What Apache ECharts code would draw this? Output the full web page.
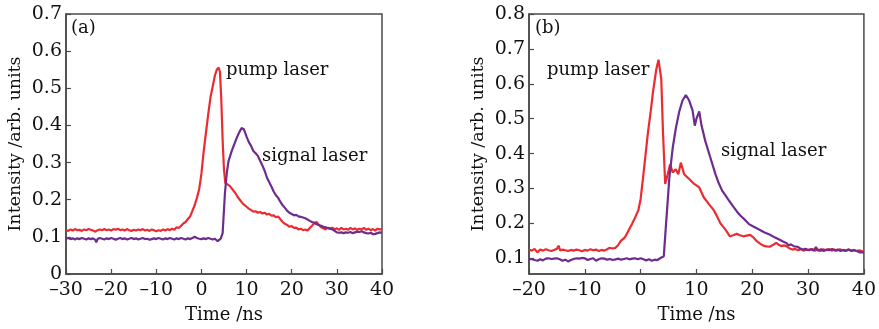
<!DOCTYPE html>
<html>
<head>
<meta charset="utf-8">
<script src="https://cdn.jsdelivr.net/npm/echarts@6/dist/echarts.min.js"></script>
<style>
  html, body { margin: 0; padding: 0; background: #fff; }
  #chart { width: 879px; height: 329px; }
</style>
</head>
<body>
<div id="chart"></div>
<script>
// panel (a)
const tPumpA = [-30,-29.5,-29,-28.5,-28,-27.5,-27,-26.5,-26,-25.5,-25,-24.5,-24,-23.5,-23.3,-23,-22.5,-22,-21.5,-21,-20.5,-20,-19.5,-19,-18.5,-18,-17.5,-17,-16.5,-16,-15.5,-15,-14.5,-14,-13.5,-13,-12.5,-12,-11.5,-11,-10.5,-10,-9.5,-9,-8.5,-8,-7.5,-7,-6.5,-6,-5.5,-5,-4.5,-4,-3.5,-3,-2.5,-2,-1.5,-1,-0.5,0,0.5,1,1.5,2,2.5,3,3.4,3.8,4.1,4.4,4.7,5,5.3,5.7,6.2,6.6,7,7.5,8,8.5,9,9.5,10,10.5,11,11.5,12,12.5,13,13.5,14,14.5,15,15.5,16,16.5,17,17.5,18,18.5,19,19.5,20,20.5,21,21.5,22,22.5,23,23.5,24,24.5,25,25.5,26,26.5,27,27.5,28,28.5,29,29.5,30,30.5,31,31.5,32,32.5,33,33.5,34,34.5,35,35.5,36,36.5,37,37.5,38,38.5,39,39.5,40];
const pumpA = [0.118,0.116,0.12,0.117,0.121,0.118,0.119,0.116,0.12,0.118,0.121,0.119,0.117,0.114,0.109,0.118,0.12,0.118,0.121,0.118,0.12,0.117,0.121,0.119,0.122,0.118,0.12,0.117,0.121,0.118,0.116,0.119,0.117,0.12,0.118,0.121,0.117,0.119,0.116,0.12,0.118,0.115,0.118,0.116,0.12,0.117,0.121,0.118,0.122,0.119,0.126,0.124,0.13,0.136,0.14,0.148,0.155,0.17,0.185,0.205,0.228,0.27,0.33,0.38,0.43,0.475,0.505,0.535,0.55,0.556,0.545,0.47,0.36,0.28,0.245,0.24,0.238,0.236,0.226,0.218,0.208,0.2,0.192,0.186,0.181,0.176,0.172,0.168,0.169,0.165,0.167,0.163,0.165,0.16,0.162,0.157,0.158,0.153,0.155,0.147,0.14,0.135,0.132,0.127,0.129,0.124,0.125,0.12,0.122,0.118,0.12,0.117,0.124,0.13,0.137,0.14,0.132,0.126,0.123,0.12,0.124,0.121,0.125,0.12,0.123,0.119,0.124,0.12,0.122,0.119,0.124,0.12,0.123,0.119,0.122,0.12,0.124,0.119,0.122,0.118,0.121,0.117,0.122,0.12,0.121];

const tSignalA = [-30,-29.5,-29,-28.5,-28,-27.5,-27,-26.5,-26,-25.5,-25,-24.5,-24,-23.5,-23.3,-23,-22.5,-22,-21.5,-21,-20.5,-20,-19.5,-19,-18.5,-18,-17.5,-17,-16.5,-16,-15.5,-15,-14.5,-14,-13.5,-13,-12.5,-12,-11.5,-11,-10.5,-10,-9.5,-9,-8.5,-8,-7.5,-7,-6.5,-6,-5.5,-5,-4.5,-4,-3.5,-3,-2.5,-2,-1.5,-1,-0.5,0,0.5,1,1.5,2,2.5,3,3.6,4.3,4.7,5.2,5.6,6,6.7,7.3,7.8,8.4,8.9,9.4,10,10.5,11,11.5,12,12.5,13,13.4,14,14.5,15,15.6,16,16.5,17,17.4,18,18.5,19,19.6,20,20.5,21,21.5,22,22.5,23,23.5,24,24.5,25,25.5,26,26.5,27,27.5,28,28.5,29,29.5,30,30.5,31,31.5,32,32.5,33,33.5,34,34.5,35,35.5,36,36.5,37,37.5,38,38.5,39,39.5,40];
const signalA = [0.095,0.097,0.094,0.096,0.093,0.096,0.094,0.097,0.095,0.093,0.096,0.094,0.096,0.092,0.085,0.094,0.097,0.095,0.093,0.096,0.094,0.097,0.095,0.092,0.095,0.097,0.094,0.096,0.093,0.095,0.097,0.094,0.096,0.093,0.095,0.097,0.094,0.095,0.092,0.094,0.096,0.094,0.097,0.095,0.093,0.096,0.094,0.097,0.095,0.093,0.096,0.094,0.097,0.095,0.093,0.096,0.094,0.097,0.1,0.097,0.095,0.094,0.096,0.094,0.097,0.095,0.093,0.095,0.088,0.096,0.11,0.216,0.27,0.304,0.331,0.35,0.366,0.382,0.393,0.39,0.37,0.355,0.345,0.331,0.325,0.318,0.305,0.295,0.278,0.26,0.248,0.233,0.222,0.212,0.205,0.196,0.185,0.178,0.17,0.164,0.161,0.158,0.159,0.155,0.154,0.152,0.15,0.147,0.143,0.14,0.138,0.134,0.132,0.13,0.127,0.126,0.124,0.123,0.12,0.116,0.112,0.111,0.112,0.11,0.112,0.111,0.113,0.11,0.112,0.114,0.113,0.115,0.112,0.11,0.109,0.111,0.107,0.108,0.11,0.112,0.111];

// panel (b)
const tPumpB = [-20,-19.5,-19,-18.5,-18,-17.5,-17,-16.5,-16,-15.5,-15,-14.7,-14.4,-14,-13.5,-13,-12.5,-12,-11.5,-11,-10.5,-10,-9.5,-9,-8.5,-8,-7.5,-7,-6.5,-6,-5.6,-5,-4.5,-4,-3.6,-3,-2.7,-2.1,-1.5,-0.9,-0.4,0,0.44,0.9,1.33,1.8,2.2,2.8,3.2,3.7,4,4.4,4.85,5.27,5.74,6.3,6.75,7.2,7.8,8.7,9.6,10.5,11.3,12.2,13.1,13.7,14.3,15.2,16,16.6,17.2,17.8,18.4,19,19.6,20.2,20.8,21.4,21.9,22.5,23.1,23.7,24.3,24.8,25.2,25.7,26.1,26.6,27.2,27.7,28.2,28.7,29.2,29.7,30.2,30.7,31.2,31.7,32.2,32.7,33.2,33.7,34.2,34.7,35.2,35.7,36.2,36.7,37.2,37.7,38.2,38.7,39.2,39.6,40];
const pumpB = [0.125,0.122,0.127,0.117,0.125,0.122,0.126,0.123,0.121,0.124,0.127,0.136,0.122,0.125,0.123,0.121,0.124,0.122,0.125,0.123,0.12,0.124,0.122,0.126,0.123,0.125,0.121,0.124,0.122,0.126,0.13,0.128,0.13,0.138,0.149,0.157,0.163,0.182,0.2,0.22,0.238,0.27,0.332,0.4,0.463,0.52,0.575,0.641,0.669,0.613,0.463,0.313,0.341,0.369,0.346,0.355,0.341,0.374,0.341,0.327,0.313,0.303,0.275,0.256,0.238,0.22,0.2,0.182,0.163,0.166,0.17,0.166,0.163,0.165,0.167,0.16,0.149,0.142,0.137,0.134,0.133,0.138,0.144,0.138,0.135,0.137,0.135,0.129,0.125,0.127,0.123,0.126,0.122,0.125,0.123,0.127,0.122,0.125,0.121,0.126,0.123,0.127,0.122,0.125,0.122,0.126,0.123,0.121,0.125,0.122,0.124,0.121,0.123,0.12,0.121];

const tSignalB = [-20,-19.5,-19,-18.5,-18,-17.5,-17,-16.5,-16,-15.5,-15,-14.5,-14,-13.5,-13,-12.5,-12,-11.5,-11,-10.5,-10,-9.5,-9,-8.5,-8,-7.5,-7,-6.5,-6,-5.5,-5,-4.5,-4,-3.5,-3,-2.5,-2,-1.5,-1,-0.5,0,0.5,1,1.5,2,2.5,3,3.5,4.15,4.56,5.15,5.74,6.3,6.9,7.5,8.1,8.7,9.3,9.7,10,10.5,10.9,11.6,12.5,13.4,14,14.6,15.2,15.8,16.5,17.2,17.9,18.7,19.4,20.2,20.8,21.3,22.2,23.1,24,24.9,25.5,26.1,26.5,26.9,27.5,28.1,28.6,29,29.5,30,30.5,31,31.4,31.8,32.3,32.8,33.3,33.8,34.3,34.8,35.3,35.8,36.3,36.8,37.3,37.8,38.3,38.8,39.3,39.6,40];
const signalB = [0.097,0.098,0.095,0.093,0.097,0.094,0.099,0.1,0.098,0.099,0.1,0.097,0.093,0.096,0.091,0.095,0.098,0.1,0.099,0.101,0.1,0.095,0.098,0.1,0.093,0.097,0.1,0.099,0.096,0.098,0.095,0.097,0.099,0.096,0.098,0.1,0.097,0.099,0.1,0.097,0.1,0.097,0.094,0.097,0.093,0.096,0.095,0.1,0.106,0.2,0.332,0.416,0.472,0.519,0.552,0.568,0.552,0.524,0.48,0.5,0.521,0.481,0.435,0.388,0.341,0.315,0.294,0.28,0.266,0.25,0.235,0.222,0.21,0.198,0.191,0.186,0.182,0.174,0.168,0.16,0.153,0.148,0.144,0.137,0.14,0.134,0.133,0.128,0.125,0.127,0.124,0.126,0.122,0.132,0.122,0.126,0.121,0.125,0.123,0.127,0.122,0.125,0.121,0.124,0.122,0.125,0.121,0.123,0.12,0.117,0.118,0.117];

// axis ticks
const xTicksA = [-30, -20, -10, 0, 10, 20, 30, 40];
const yTicksA = [0, 0.1, 0.2, 0.3, 0.4, 0.5, 0.6, 0.7];
const xTicksB = [-20, -10, 0, 10, 20, 30, 40];
const yTicksB = [0.1, 0.2, 0.3, 0.4, 0.5, 0.6, 0.7, 0.8];

const RED = '#ec2b30';
const PURPLE = '#6e2c8f';
const FONT = 'DejaVu Serif';
const FRAME = '#4a4a4a';
const INK = '#111';

const pairs = (ts, vs) => ts.map((t, i) => [t, vs[i]]);
const fmtX = (v) => (v < 0 ? '\u2013' + Math.abs(v) : String(v));

const makeX = (gridIndex, ticks) => ({
  type: 'value',
  gridIndex,
  min: ticks[0],
  max: ticks[ticks.length - 1],
  name: 'Time /ns',
  nameLocation: 'middle',
  nameGap: 32,
  nameTextStyle: { fontFamily: FONT, fontSize: 18, color: INK },
  axisLine: { show: true, onZero: false, lineStyle: { color: FRAME, width: 1.5 } },
  axisTick: { show: true, inside: true, length: 5, customValues: ticks, lineStyle: { color: FRAME, width: 1.2 } },
  axisLabel: { customValues: ticks, formatter: fmtX, fontFamily: FONT, fontSize: 19, color: INK, margin: 7 },
  splitLine: { show: false },
});

const makeY = (gridIndex, ticks, min, max, gap) => ({
  type: 'value',
  gridIndex,
  min,
  max,
  name: 'Intensity /arb. units',
  nameLocation: 'middle',
  nameGap: gap,
  nameTextStyle: { fontFamily: FONT, fontSize: 17.5, color: INK },
  axisLine: { show: true, onZero: false, lineStyle: { color: FRAME, width: 1.5 } },
  axisTick: { show: true, inside: true, length: 5, customValues: ticks, lineStyle: { color: FRAME, width: 1.2 } },
  axisLabel: { customValues: ticks, formatter: (v) => (v === 0 ? '0' : v.toFixed(1)), fontFamily: FONT, fontSize: 19, color: INK, margin: 4 },
  splitLine: { show: false },
});

const line = (name, idx, data, color) => ({
  name,
  type: 'line',
  xAxisIndex: idx,
  yAxisIndex: idx,
  data,
  showSymbol: false,
  animation: false,
  lineStyle: { color, width: 2.2 },
  itemStyle: { color },
});

const label = (text, left, top) => ({
  type: 'text',
  left,
  top,
  style: { text, font: '18px "DejaVu Serif"', fill: INK },
});

const option = {
  backgroundColor: '#fff',
  animation: false,
  grid: [
    { left: 66, top: 14, width: 316, height: 264, show: true, borderColor: FRAME, borderWidth: 1.5 },
    { left: 529, top: 14, width: 340, height: 264, show: true, borderColor: FRAME, borderWidth: 1.5 },
  ],
  xAxis: [makeX(0, xTicksA), makeX(1, xTicksB)],
  yAxis: [makeY(0, yTicksA, 0, 0.7, 42), makeY(1, yTicksB, 0.055, 0.8, 42)],
  series: [
    line('pump laser', 0, pairs(tPumpA, pumpA), RED),
    line('signal laser', 0, pairs(tSignalA, signalA), PURPLE),
    line('pump laser', 1, pairs(tPumpB, pumpB), RED),
    line('signal laser', 1, pairs(tSignalB, signalB), PURPLE),
  ],
  graphic: [
    label('(a)', 71, 19),
    label('pump laser', 226, 61),
    label('signal laser', 262, 147),
    label('(b)', 535, 19),
    label('pump laser', 547, 61),
    label('signal laser', 721, 142),
  ],
};

const chart = echarts.init(document.getElementById('chart'));
chart.setOption(option);
</script>
</body>
</html>
